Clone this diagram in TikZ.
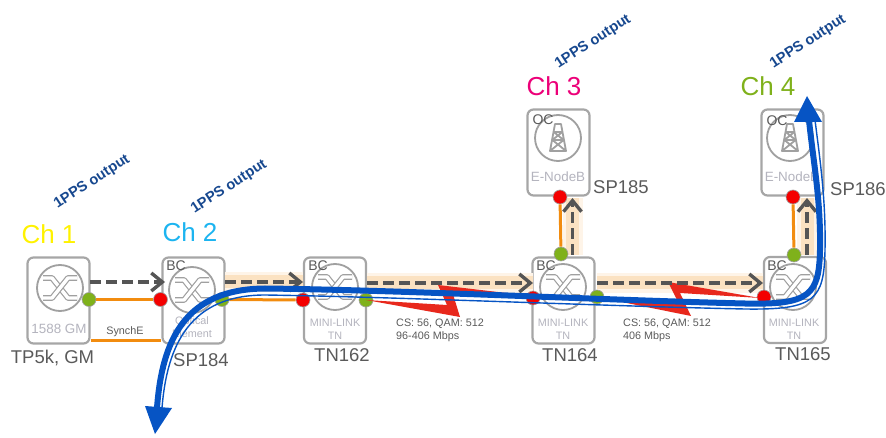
\documentclass[tikz,border=0pt]{standalone}
\usepackage{fontspec}
\setmainfont{Liberation Sans}
\usetikzlibrary{arrows.meta}
\definecolor{boxgray}{HTML}{A6A6A6}
\definecolor{icongray}{HTML}{A0A0A0}
\definecolor{txtgray}{HTML}{5A5A5A}
\definecolor{faint}{HTML}{B4B4BE}
\definecolor{portgreen}{HTML}{7FB11B}
\definecolor{portred}{HTML}{F40000}
\definecolor{linkorange}{HTML}{F28C0F}
\definecolor{dashgray}{HTML}{555555}
\definecolor{flowblue}{HTML}{0654C4}
\definecolor{ppsblue}{HTML}{17488F}
\definecolor{glowa}{HTML}{FEF4E8}
\definecolor{glowb}{HTML}{FBE2C2}
\definecolor{boltred}{HTML}{E8281C}
\definecolor{chtwo}{HTML}{1CB4F0}
\definecolor{chthree}{HTML}{EC0078}
\newcommand{\fsz}[1]{\fontsize{#1}{#1}\selectfont}
\tikzset{
  devbox/.style={draw=boxgray,line width=2.2pt,rounded corners=6pt,minimum width=62pt,minimum height=86pt,inner sep=0pt,fill=white},
  ring/.style={circle,draw=icongray,line width=1.8pt,minimum size=46pt,inner sep=0pt},
  portg/.style={circle,fill=portgreen,draw=icongray,line width=.6pt,minimum size=14pt,inner sep=0pt},
  portr/.style={circle,fill=portred,draw=icongray,line width=.6pt,minimum size=14pt,inner sep=0pt},
  link/.style={draw=linkorange,line width=3pt},
  glowo/.style={draw=glowa,line width=20pt},
  glowi/.style={draw=glowb,line width=13pt},
  ptp/.style={draw=dashgray,line width=3.4pt,dash pattern=on 11pt off 5pt,-{Straight Barb[length=11pt,width=18pt,line width=3.4pt]}},
  flowmain/.style={draw=flowblue,line width=6pt},
  flowthin/.style={draw=flowblue,line width=1.4pt},
  flowhead/.style={fill=flowblue,draw=none},
  bolt/.style={fill=boltred,draw=none},
  chan/.style={inner sep=0pt,font=\fsz{26}},
  pps/.style={inner sep=0pt,rotate=33,text=ppsblue,font=\fsz{14.6}\bfseries},
  devname/.style={inner sep=0pt,text=txtgray,font=\fsz{18.5}},
  role/.style={inner sep=0pt,text=txtgray,font=\fsz{14}},
  inner/.style={inner sep=0pt,text=faint,align=center,font=\fsz{10.8}},
  small/.style={inner sep=0pt,text=txtgray,align=left,anchor=north west,font=\fsz{10.8}},
  xleg/.style={draw=icongray,line width=1.2pt,double=white,double distance=3.4pt,line join=round}
}
\newcommand{\crossmark}[1]{%
  \draw[xleg] ([shift={(-17,-10)}]#1.center) -- ([shift={(-8,-10)}]#1.center) -- ([shift={(8,10)}]#1.center) -- ([shift={(17,10)}]#1.center);
  \draw[xleg] ([shift={(-17,10)}]#1.center) -- ([shift={(-8,10)}]#1.center) -- ([shift={(8,-10)}]#1.center) -- ([shift={(17,-10)}]#1.center);
}
\newcommand{\towermark}[1]{%
  \draw[icongray,line width=1.8pt,line join=round]
    ([shift={(-3,-14)}]#1.center) -- ([shift={(3,-14)}]#1.center) -- ([shift={(8,13)}]#1.center) -- ([shift={(-8,13)}]#1.center) -- cycle
    ([shift={(-4.2,-6)}]#1.center) -- ([shift={(4.2,-6)}]#1.center)
    ([shift={(-5.6,2)}]#1.center) -- ([shift={(5.6,2)}]#1.center)
    ([shift={(-4.2,-6)}]#1.center) -- ([shift={(5.6,2)}]#1.center)
    ([shift={(4.2,-6)}]#1.center) -- ([shift={(-5.6,2)}]#1.center)
    ([shift={(-5.6,2)}]#1.center) -- ([shift={(8,13)}]#1.center)
    ([shift={(5.6,2)}]#1.center) -- ([shift={(-8,13)}]#1.center);
}
\begin{document}
\begin{tikzpicture}[x=1pt,y=-1pt]
\useasboundingbox (0,0) rectangle (886,438);
% devices
\node[devbox] (gm)  at (58.5,300.5) {};
\node[devbox] (sp184) at (193.5,300.5) {};
\node[devbox] (tn162) at (335,300.5) {};
\node[devbox] (tn164) at (563.5,300.5) {};
\node[devbox] (tn165) at (795,300) {};
\node[devbox] (sp185) at (558.5,152.5) {};
\node[devbox] (sp186) at (792.5,152.5) {};
% icons
\node[ring] (rgm) at (60,288) {};
\node[ring] (r184) at (192,290) {};
\node[ring] (r162) at (335,287) {};
\node[ring] (r164) at (563,287) {};
\node[ring] (r165) at (793,287) {};
\node[ring] (r185) at (558,138) {};
\node[ring] (r186) at (790,138) {};
\crossmark{rgm}\crossmark{r184}\crossmark{r162}\crossmark{r164}\crossmark{r165}
\towermark{r185}\towermark{r186}
% inner captions
\node[inner,font=\fsz{13.4}] (cgm) at (59,329) {1588 GM};
\node[inner] (c184) at (192,327) {Optical\\[2pt]Element};
\node[inner] (c162) at (335,329.5) {MINI-LINK\\[2pt]TN};
\node[inner] (c164) at (563,329.5) {MINI-LINK\\[2pt]TN};
\node[inner] (c165) at (794,329.5) {MINI-LINK\\[2pt]TN};
\node[inner,font=\fsz{13.4}] (c185) at (558,177) {E-NodeB};
\node[inner,font=\fsz{13.4}] (c186) at (792,177) {E-NodeB};
\node[role] (b184) at (176,266) {BC};
\node[role] (b162) at (318,266) {BC};
\node[role] (b164) at (546,266) {BC};
\node[role] (b165) at (777,266) {BC};
\node[role] (o185) at (543,120) {OC};
\node[role] (o186) at (777,121) {OC};
% glow anchors
\coordinate (a1) at (225,282); \coordinate (a2) at (303,282);
\coordinate (a3) at (367,283); \coordinate (a4) at (533,283);
\coordinate (a5) at (597,283); \coordinate (a6) at (763,283);
\coordinate (a7) at (572.5,255); \coordinate (a8) at (572.5,198);
\coordinate (a9) at (807,255); \coordinate (a10) at (807,198);
\coordinate (a11) at (90,282); \coordinate (a12) at (165,282);
\foreach \p/\q in {a1/a2,a3/a4,a5/a6,a7/a8,a9/a10}{
  \draw[glowo] (\p) -- (\q);
  \draw[glowi] (\p) -- (\q);
}
% ports
\node[portg] (pg1) at (89,299.5) {};
\node[portr] (pr2) at (160.5,299.5) {};
\node[portg] (pg2) at (222,299.5) {};
\node[portr] (pr3) at (303,300) {};
\node[portg] (pg3) at (366,300) {};
\node[portr] (pr4) at (533,298) {};
\node[portg] (pg4) at (597,297) {};
\node[portr] (pr5) at (764,297) {};
\node[portr] (pr6) at (560,197) {};
\node[portg] (pg6) at (561,254) {};
\node[portr] (pr7) at (793,197) {};
\node[portg] (pg7) at (794,255) {};
% orange links
\draw[link] (pg1) -- (pr2);
\draw[link] (pg2) -- (pr3);
\draw[link] (pg6) -- (pr6);
\draw[link] (pg7) -- (pr7);
\coordinate (se1) at (91,340.5); \coordinate (se2) at (161,340.5);
\draw[link] (se1) -- (se2);
\node[inner sep=0pt,text=txtgray,font=\fsz{10.8}] (synche) at (125,331.5) {SynchE};
% radio bolts
\fill[bolt] (pg3.center) -- (447,305) -- (438,285) -- (532,296) -- (452,291) -- (460,317) -- cycle;
\fill[bolt] (pg4.center) -- (679,304) -- (668,282) -- (760,298) -- (680,293) -- (691,316) -- cycle;
% PTP flows
\draw[ptp] (a11) -- (a12);
\draw[ptp] (a1) -- (a2);
\draw[ptp] (a3) -- (a4);
\draw[ptp] (a5) -- (a6);
\draw[ptp] (a7) -- (a8);
\draw[ptp] (a9) -- (a10);
% blue trace
\coordinate (tipa) at (155,434); \coordinate (basa) at (157,408);
\coordinate (tipb) at (807,96);  \coordinate (basb) at (809,120);
\draw[flowthin] (162,408) .. controls (167,345) and (190,295) .. (265,295)
  .. controls (400,297) and (600,306) .. (745,309)
  .. controls (815,310) and (824,300) .. (825,250)
  .. controls (826,200) and (820,160) .. (815,120);
\draw[flowmain] (basa) .. controls (162,340) and (185,289) .. (265,288.5)
  .. controls (400,290) and (600,300) .. (745,303.5)
  .. controls (810,305) and (819,295) .. (820,250)
  .. controls (821,200) and (813,160) .. (basb);
\fill[flowhead] (tipa) -- (145,406) -- (172,408) -- cycle;
\fill[flowhead] (tipb) -- (794,122) -- (822,122) -- cycle;
% texts
\node[chan,text=yellow] (ch1) at (49,234) {Ch 1};
\node[chan,text=chtwo] (ch2) at (190,232) {Ch 2};
\node[chan,text=chthree] (ch3) at (554,86) {Ch 3};
\node[chan,text=portgreen] (ch4) at (768,86) {Ch 4};
\node[pps] (pp1) at (92,182) {1PPS output};
\node[pps] (pp2) at (229,187) {1PPS output};
\node[pps] (pp3) at (593,42) {1PPS output};
\node[pps] (pp4) at (808,42) {1PPS output};
\node[devname] (ngm) at (52.5,358) {TP5k, GM};
\node[devname] (n184) at (201,360) {SP184};
\node[devname] (n162) at (342,355) {TN162};
\node[devname] (n164) at (570,355) {TN164};
\node[devname] (n165) at (803,354) {TN165};
\node[devname] (n185) at (621,187) {SP185};
\node[devname] (n186) at (858,189) {SP186};
\node[small] (cs1) at (396,319) {CS: 56, QAM: 512\\[2.2pt]96-406 Mbps};
\node[small] (cs2) at (623,318.5) {CS: 56, QAM: 512\\[2.2pt]406 Mbps};
\end{tikzpicture}
\end{document}
